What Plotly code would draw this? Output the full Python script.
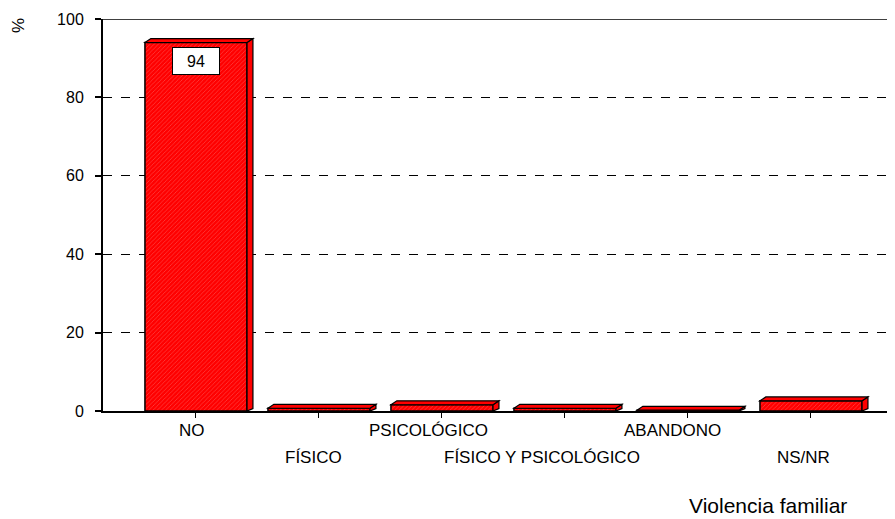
import plotly.graph_objects as go

categories = ["NO", "FÍSICO", "PSICOLÓGICO", "FÍSICO Y PSICOLÓGICO", "ABANDONO", "NS/NR"]
values = [94, 0.7, 1.6, 0.7, 0.2, 2.6]
y_ticks = [0, 20, 40, 60, 80, 100]
label_row = [0, 1, 0, 1, 0, 1]
label_xshift = [-4, -5, -13, -23, -15, -7]
shown_labels = {0: "94"}

FONT = "Liberation Sans, Arial, sans-serif"
RED = "#FF0000"
W = 0.83      # bar width in category units
DX = 0.048    # 3D depth (x, category units)
DY = 1.0      # 3D depth (y, value units)

BODY = 8  # default page margin
x_idx = list(range(len(categories)))

fig = go.Figure()
fig.add_trace(go.Bar(
    x=x_idx, y=values, width=W,
    marker=dict(color=RED, line=dict(color="black", width=1.5),
                pattern=dict(shape="/", fgcolor="#ff8080", bgcolor=RED, size=3, solidity=0.25)),
    hoverinfo="skip",
))

shapes = []
for i, v in zip(x_idx, values):
    r = i + W / 2
    l = i - W / 2
    side = f"M {r},0 L {r+DX},{DY*0.6} L {r+DX},{v+DY} L {r},{v} Z"
    top = f"M {l},{v} L {l+DX},{v+DY} L {r+DX},{v+DY} L {r},{v} Z"
    for p in (side, top):
        shapes.append(dict(type="path", path=p, xref="x", yref="y",
                           fillcolor=RED, line=dict(color="black", width=1.2)))

shapes.append(dict(type="line", xref="paper", yref="y", x0=0, x1=1, y0=100, y1=100,
                   line=dict(color="black", width=1.5)))

annotations = []
for i, (c, row, xs) in enumerate(zip(categories, label_row, label_xshift)):
    annotations.append(dict(x=i, y=0, xref="x", yref="y", text=c, showarrow=False,
                            yanchor="middle", yshift=-19 if row == 0 else -46, xshift=xs,
                            font=dict(family=FONT, size=17, color="black")))
for i, t in shown_labels.items():
    annotations.append(dict(x=i, y=values[i], xref="x", yref="y", text=t, showarrow=False,
                            yanchor="top", yshift=-4, bgcolor="white", bordercolor="black",
                            borderwidth=1, width=44, height=24,
                            font=dict(family=FONT, size=16, color="black")))

# screen-pixel positioned texts
plot_l, plot_r, plot_t, plot_b = 103, 895, 19, 411
def paper(px, py):
    return (px - plot_l) / (plot_r - plot_l), (plot_b - py) / (plot_b - plot_t)

x0, y0 = paper(768, 505)
annotations.append(dict(x=x0, y=y0, xref="paper", yref="paper", text="Violencia familiar",
                        xanchor="center", yanchor="middle", showarrow=False,
                        font=dict(family=FONT, size=21, color="black")))
x0, y0 = paper(18, 26)
annotations.append(dict(x=x0, y=y0, xref="paper", yref="paper", text="%", textangle=-90,
                        xanchor="center", yanchor="middle", showarrow=False,
                        font=dict(family=FONT, size=17, color="black")))

fig.update_layout(
    width=895 - BODY, height=519 - BODY,
    margin=dict(l=plot_l - BODY, r=0, t=plot_t - BODY, b=519 - plot_b),
    paper_bgcolor="white", plot_bgcolor="white",
    showlegend=False,
    font=dict(family=FONT, size=16, color="black"),
    shapes=shapes,
    annotations=annotations,
    xaxis=dict(range=[-0.756, 5.683], tickvals=x_idx, showticklabels=False,
               ticks="outside", ticklen=5, tickcolor="black", tickwidth=1,
               showline=True, linecolor="black", linewidth=2, showgrid=False,
               zeroline=False, fixedrange=True),
    yaxis=dict(range=[0, 100], tickvals=y_ticks, ticks="outside", ticklen=6,
               tickcolor="black", tickwidth=1.5, showline=True, linecolor="black",
               linewidth=2, showgrid=True, gridcolor="black", griddash="dash",
               gridwidth=1, zeroline=False, ticklabelstandoff=8,
               tickfont=dict(family=FONT, size=16), fixedrange=True),
)

fig.write_html("out.html")
